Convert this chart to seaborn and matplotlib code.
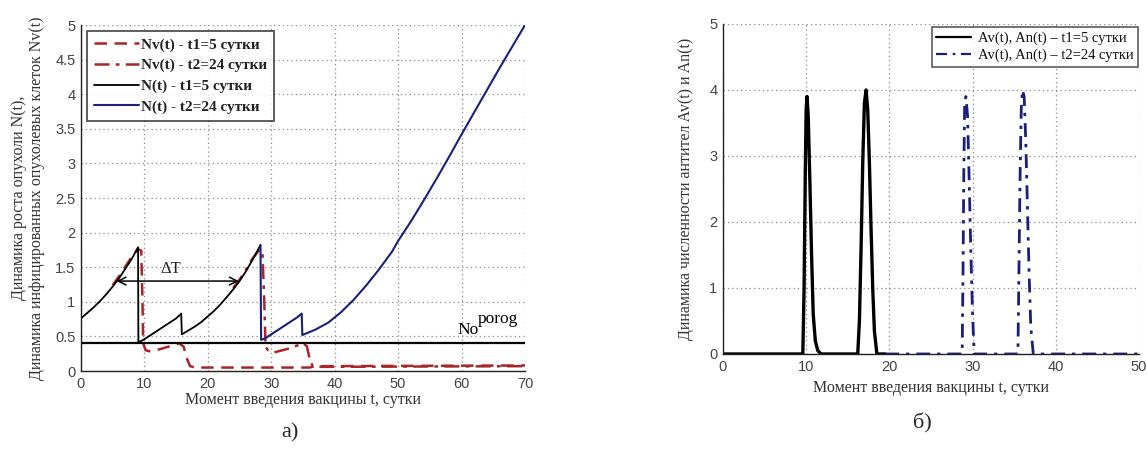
import numpy as np
import pandas as pd
import matplotlib
matplotlib.use("Agg")
import matplotlib.pyplot as plt
import seaborn as sns
from matplotlib.ticker import FuncFormatter

# ---------------- data: panel a) ----------------
t_N1 = [0, 1, 2, 3, 4, 5, 6, 7, 8, 9.0, 9.05, 9.4, 10, 11, 12, 13, 14, 15, 15.8, 15.9,
        17, 18, 19, 20, 21, 22, 23, 24, 25, 26, 27, 28.3]
N1 = [0.76, 0.84, 0.92, 1.01, 1.11, 1.22, 1.34, 1.48, 1.62, 1.79, 0.42, 0.43, 0.46, 0.52,
      0.58, 0.64, 0.70, 0.76, 0.83, 0.53, 0.59, 0.645, 0.71, 0.79, 0.87, 0.965, 1.07, 1.18,
      1.30, 1.44, 1.60, 1.82]

t_N2 = [28.3, 28.4, 29, 30, 31, 32, 33, 34, 34.8, 34.9, 37, 39, 41, 43, 45, 47, 49, 50,
        52, 54, 56, 58, 60, 62, 64, 66, 68, 70]
N2 = [1.82, 0.45, 0.47, 0.53, 0.59, 0.65, 0.71, 0.77, 0.83, 0.52, 0.60, 0.70, 0.85, 1.03,
      1.24, 1.47, 1.72, 1.88, 2.16, 2.46, 2.77, 3.09, 3.42, 3.74, 4.06, 4.38, 4.69, 5.0]

t_Nv1 = [5, 6, 7, 8, 9, 9.5, 9.7, 9.8, 10.2, 11, 13, 15.5, 16.2, 16.6, 17.2, 18, 36,
         37, 70]
Nv1 = [1.24, 1.37, 1.51, 1.65, 1.76, 1.74, 1.0, 0.40, 0.30, 0.28, 0.33, 0.40,
       0.35, 0.20, 0.07, 0.05, 0.05, 0.07, 0.08]

t_Nv2 = [24, 25, 26, 27, 28, 28.6, 28.9, 29.1, 29.5, 30.5, 33, 35, 35.6, 36, 36.5, 38, 70]
Nv2 = [1.20, 1.32, 1.46, 1.62, 1.74, 1.74, 1.0, 0.35, 0.30, 0.27, 0.33, 0.40, 0.36, 0.20,
       0.07, 0.06, 0.07]

N_porog = 0.4

# ---------------- data: panel б) ----------------
t_A1 = [0, 5.5, 9.6, 9.75, 9.9, 10.0, 10.1, 10.25, 10.45, 10.65, 10.85, 11.1, 11.4, 11.8,
        16.2, 16.4, 16.6, 16.8, 17.0, 17.2, 17.4, 17.6, 17.8, 18.0, 18.2, 18.5, 19.5]
A1 = [0, 0, 0, 1.0, 2.8, 3.7, 3.9, 3.6, 2.6, 1.5, 0.6, 0.2, 0.05, 0,
      0, 0.5, 1.6, 2.9, 3.8, 4.0, 3.7, 2.9, 1.9, 1.0, 0.35, 0, 0]

t_A2 = [19.5, 28.75, 28.85, 28.95, 29.05, 29.2, 29.4, 29.6, 29.8, 30.0, 30.2,
        35.45, 35.55, 35.7, 35.85, 36.0, 36.2, 36.4, 36.6, 36.8, 37.0, 37.3, 50]
A2 = [0, 0, 1.2, 2.8, 3.8, 3.9, 3.6, 2.6, 1.5, 0.6, 0,
      0, 1.0, 2.6, 3.7, 4.0, 3.9, 3.2, 2.2, 1.2, 0.4, 0, 0]

xticks_a = [0, 10, 20, 30, 40, 50, 60, 70]
yticks_a = [0, 0.5, 1, 1.5, 2, 2.5, 3, 3.5, 4, 4.5, 5]
xticks_b = [0, 10, 20, 30, 40, 50]
yticks_b = [0, 1, 2, 3, 4, 5]

labels_a = ["Nv(t) - t1=5 сутки", "Nv(t) - t2=24 сутки", "N(t) - t1=5 сутки", "N(t) - t2=24 сутки"]
labels_b = ["Av(t), An(t) – t1=5 сутки", "Av(t), An(t) – t2=24 сутки"]
xlabel = "Момент введения вакцины t, сутки"
ylabel_a = "Динамика роста опухоли N(t),\nДинамика инфицированных опухолевых клеток Nv(t)"
ylabel_b = "Динамика численности антител Av(t) и An(t)"

# ---------------- style ----------------
sns.set_theme(style="white")
plt.rcParams['font.family'] = ['Liberation Sans', 'DejaVu Sans']
SERIF = ['Liberation Serif', 'DejaVu Serif']
RED = "#a8262a"
BLUE = "#1c1f7a"
TICKC = "#444444"

fig = plt.figure(figsize=(11.47, 4.54), dpi=100)
ax1 = fig.add_axes([0.0706, 0.1828, 0.3871, 0.762])
ax2 = fig.add_axes([0.6303, 0.2203, 0.3627, 0.727])

fmt = FuncFormatter(lambda v, p: f"{v:g}")

def style_axes(ax, xt, yt, xlim, ylim):
    ax.set_xlim(*xlim)
    ax.set_ylim(*ylim)
    ax.set_xticks(xt)
    ax.set_yticks(yt)
    ax.xaxis.set_major_formatter(fmt)
    ax.yaxis.set_major_formatter(fmt)
    ax.grid(True, linestyle=(0, (1, 2.5)), color="#8a8a8a", lw=0.9)
    for s in ["top", "right"]:
        ax.spines[s].set_visible(False)
    for s in ["left", "bottom"]:
        ax.spines[s].set_color("#222222")
        ax.spines[s].set_linewidth(1.0)
    ax.tick_params(direction="in", length=3, width=0.8, labelsize=10.5,
                   labelcolor=TICKC, color="#222222", pad=4)
    ax.set_axisbelow(True)

# ---------------- panel a) ----------------
sns.lineplot(x=t_Nv1, y=Nv1, sort=False, estimator=None, ax=ax1, color=RED, lw=1.8,
             linestyle=(0, (5, 3)), label=labels_a[0])
sns.lineplot(x=t_Nv2, y=Nv2, sort=False, estimator=None, ax=ax1, color=RED, lw=1.8,
             linestyle=(0, (6, 2.5, 1.5, 2.5)), label=labels_a[1])
sns.lineplot(x=t_N1, y=N1, sort=False, estimator=None, ax=ax1, color="black", lw=1.3,
             label=labels_a[2])
sns.lineplot(x=t_N2, y=N2, sort=False, estimator=None, ax=ax1, color=BLUE, lw=1.5,
             label=labels_a[3])
ax1.axhline(N_porog, color="black", lw=1.6)

style_axes(ax1, xticks_a, yticks_a, (0, 70), (0, 5))

ax1.annotate("", xy=(5.6, 1.3), xytext=(24.9, 1.3),
             arrowprops=dict(arrowstyle="<->", color="black", lw=1.1,
                             shrinkA=0, shrinkB=0, mutation_scale=14))
ax1.text(14.2, 1.36, "ΔT", family=SERIF, fontsize=12, color="#222222", ha="center", va="bottom")
ax1.text(59.3, 0.47, "No", family=SERIF, fontsize=12.5, color="black", va="bottom")
ax1.text(62.6, 0.63, "porog", family=SERIF, fontsize=12.5, color="black", va="bottom")

leg1 = ax1.legend(loc="upper left", bbox_to_anchor=(0.013, 0.983), borderaxespad=0,
                  frameon=True, fancybox=False, edgecolor="#333333", handlelength=3.0,
                  handletextpad=0.1, borderpad=0.45, labelspacing=0.45,
                  prop={'family': SERIF, 'size': 11, 'weight': 'bold'})
leg1.get_frame().set_linewidth(1.4)
for txt in leg1.get_texts():
    txt.set_color("#222222")

ax1.set_xlabel(xlabel, family=SERIF, fontsize=11.5, color="#333333")
ax1.set_ylabel(ylabel_a, family=SERIF, fontsize=11.5, color="#333333", linespacing=1.15)
ax1.xaxis.set_label_coords(0.5, -0.062)
ax1.yaxis.set_label_coords(-0.082, 0.5)

# ---------------- panel б) ----------------
sns.lineplot(x=t_A1, y=A1, sort=False, estimator=None, ax=ax2, color="black", lw=2.4,
             label=labels_b[0])
sns.lineplot(x=t_A2, y=A2, sort=False, estimator=None, ax=ax2, color=BLUE, lw=2.0,
             linestyle=(0, (5, 2.5, 1.2, 2.5)), label=labels_b[1])

style_axes(ax2, xticks_b, yticks_b, (0, 50), (0, 5))

leg2 = ax2.legend(loc="upper right", bbox_to_anchor=(0.997, 0.99), borderaxespad=0,
                  frameon=True, fancybox=False, edgecolor="#333333", handlelength=2.4,
                  handletextpad=0.45, borderpad=0.3, labelspacing=0.25,
                  prop={'family': SERIF, 'size': 10.5})
leg2.get_frame().set_linewidth(1.2)
for line in leg2.get_lines():
    line.set_linewidth(1.6)
for txt in leg2.get_texts():
    txt.set_color("#111111")

ax2.set_xlabel(xlabel, family=SERIF, fontsize=11.5, color="#333333")
ax2.set_ylabel(ylabel_b, family=SERIF, fontsize=11.5, color="#333333")
ax2.xaxis.set_label_coords(0.5, -0.08)
ax2.yaxis.set_label_coords(-0.07, 0.5)

fig.text(0.253, 0.046, "а)", family=SERIF, fontsize=16, ha="center", va="center")
fig.text(0.804, 0.068, "б)", family=SERIF, fontsize=16, ha="center", va="center")

fig.savefig("out.png", dpi=100, facecolor="white")
